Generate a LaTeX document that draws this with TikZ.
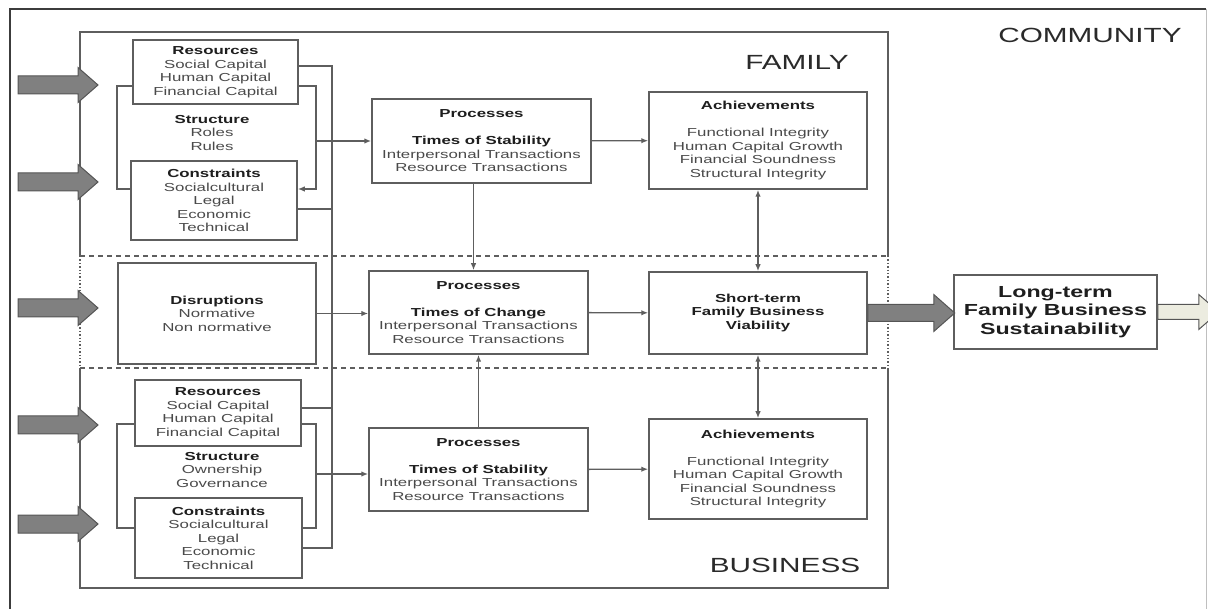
\documentclass[tikz,border=0pt]{standalone}
\usepackage{fontspec}
\setmainfont{Liberation Sans}[FakeStretch=1.45]
\usepackage{tikz}
\usetikzlibrary{arrows.meta}

\definecolor{linegray}{HTML}{5E5E5E}
\definecolor{framegray}{HTML}{3C3C3C}
\definecolor{bodytext}{HTML}{4A4A4A}
\definecolor{headtext}{HTML}{1E1E1E}
\definecolor{zonetext}{HTML}{2A2A2A}
\definecolor{arrowfill}{HTML}{808080}
\definecolor{arrowedge}{HTML}{555555}
\definecolor{outfill}{HTML}{ECECE0}

\newcommand{\boxhead}[1]{\textcolor{headtext}{\textbf{#1}}}

\tikzset{
  box/.style={draw=linegray, line width=1.5pt, fill=white, align=center,
    inner sep=0pt, text=bodytext, font={\fontsize{11.6}{13.5}\selectfont}},
  plain/.style={align=center, inner sep=0pt, text=bodytext,
    font={\fontsize{11.6}{13.5}\selectfont}},
  conn/.style={draw=linegray, line width=1.4pt},
  arr/.style={conn, -{Latex[length=7pt,width=5.5pt]}},
  twoarr/.style={conn, {Latex[length=7pt,width=5.5pt]}-{Latex[length=7pt,width=5.5pt]}},
  bigarr/.style={draw=arrowedge, line width=1pt, fill=arrowfill},
  zone/.style={text=zonetext, inner sep=0pt, font={\fontsize{20.5}{24}\selectfont}}
}

\begin{document}
\begin{tikzpicture}[x=1pt,y=1pt]
\useasboundingbox (0,0) rectangle (1208,-609);

% community frame
\draw[framegray, line width=1.5pt] (10,-609) -- (10,-9) -- (1206,-9);
\draw[black!25, line width=0.8pt] (1206,-9) -- (1206,-609);

% family and business frame
\draw[linegray, line width=1.4pt] (80,-256) -- (80,-32) -- (888,-32) -- (888,-256);
\draw[linegray, line width=1.4pt] (80,-368) -- (80,-588) -- (888,-588) -- (888,-368);
\draw[linegray, line width=1.4pt, dotted] (80,-256) -- (80,-368);
\draw[linegray, line width=1.4pt, dotted] (888,-256) -- (888,-368);
\draw[linegray, line width=1.2pt, dash pattern=on 5pt off 4pt] (80,-256) -- (888,-256);
\draw[linegray, line width=1.2pt, dash pattern=on 5pt off 4pt] (80,-368) -- (888,-368);

\node[zone] (famlabel) at (797,-62) {FAMILY};
\node[zone] (buslabel) at (785,-565) {BUSINESS};
\node[zone] (comlabel) at (1090,-35) {COMMUNITY};

% inputs from the left
\foreach \y in {85,182,308,425,524}
  \draw[bigarr] (18,{9-\y}) -- (78,{9-\y}) -- (78,{17.5-\y}) -- (98,-\y)
    -- (78,{-17.5-\y}) -- (78,{-9-\y}) -- (18,{-9-\y}) -- cycle;

% family side
\node[box, minimum width=165pt, minimum height=64pt] (famres) at (215.5,-72)
  {\boxhead{Resources}\\Social Capital\\Human Capital\\Financial Capital};
\node[plain] (famstruct) at (212,-133) {\boxhead{Structure}\\Roles\\Rules};
\node[box, minimum width=166pt, minimum height=79pt] (famcon) at (214,-200.5)
  {\boxhead{Constraints}\\Socialcultural\\Legal\\Economic\\Technical};

% disruptions
\node[box, minimum width=198pt, minimum height=101pt] (disr) at (217,-313.5)
  {\boxhead{Disruptions}\\Normative\\Non normative};

% business side
\node[box, minimum width=166pt, minimum height=66pt] (busres) at (218,-413)
  {\boxhead{Resources}\\Social Capital\\Human Capital\\Financial Capital};
\node[plain] (busstruct) at (222,-470) {\boxhead{Structure}\\Ownership\\Governance};
\node[box, minimum width=167pt, minimum height=80pt] (buscon) at (218.5,-538)
  {\boxhead{Constraints}\\Socialcultural\\Legal\\Economic\\Technical};

% processes
\node[box, minimum width=219pt, minimum height=84pt] (famproc) at (481.5,-141)
  {\boxhead{Processes}\\[13.5pt]\boxhead{Times of Stability}\\Interpersonal Transactions\\Resource Transactions};
\node[box, minimum width=219pt, minimum height=83pt] (chproc) at (478.5,-312.5)
  {\boxhead{Processes}\\[13.5pt]\boxhead{Times of Change}\\Interpersonal Transactions\\Resource Transactions};
\node[box, minimum width=219pt, minimum height=83pt] (busproc) at (478.5,-469.5)
  {\boxhead{Processes}\\[13.5pt]\boxhead{Times of Stability}\\Interpersonal Transactions\\Resource Transactions};

% achievements and viability
\node[box, minimum width=218pt, minimum height=97pt] (famach) at (758,-140.5)
  {\boxhead{Achievements}\\[13.5pt]Functional Integrity\\Human Capital Growth\\Financial Soundness\\Structural Integrity};
\node[box, minimum width=218pt, minimum height=82pt] (viab) at (758,-313)
  {\boxhead{Short-term}\\\boxhead{Family Business}\\\boxhead{Viability}};
\node[box, minimum width=218pt, minimum height=100pt] (busach) at (758,-469)
  {\boxhead{Achievements}\\[13.5pt]Functional Integrity\\Human Capital Growth\\Financial Soundness\\Structural Integrity};

\node[box, minimum width=203pt, minimum height=74pt, text=headtext,
  font={\fontsize{16}{18.5}\selectfont\bfseries}] (longterm) at (1055.5,-312)
  {Long-term\\Family Business\\Sustainability};

% structure brackets
\draw[conn] ([yshift=-14pt]famres.west) -| (117,-189) -- ([yshift=11.5pt]famcon.west);
\draw[arr] ([yshift=-14pt]famres.east) -| (316,-189) -- ([yshift=11.5pt]famcon.east);
\draw[conn] ([yshift=-11pt]busres.west) -| (117,-528) -- ([yshift=10pt]buscon.west);
\draw[conn] ([yshift=-11pt]busres.east) -| (316,-528) -- ([yshift=10pt]buscon.east);

\coordinate (famout) at (316,-141);
\coordinate (busout) at (316,-474);
\draw[arr] (famout) -- (famout -| famproc.west);
\draw[arr] (busout) -- (busout -| busproc.west);

% spine joining resources and constraints
\coordinate (spine) at (332,0);
\coordinate (famconout) at ([yshift=-8.5pt]famcon.east);
\coordinate (busresout) at ([yshift=5pt]busres.east);
\draw[conn] ([yshift=6pt]famres.east) -| (332,-548) -- ([yshift=-10pt]buscon.east);
\draw[conn] (famconout) -- (famconout -| spine);
\draw[conn] (busresout) -- (busresout -| spine);

% flows
\coordinate (famdown) at ([xshift=-8pt]famproc.south);
\draw[arr] (disr.east) -- (disr.east -| chproc.west);
\draw[arr] (famproc) -- (famach);
\draw[arr] (chproc) -- (viab);
\draw[arr] (busproc) -- (busach);
\draw[arr] (famdown) -- (famdown |- chproc.north);
\draw[arr] (busproc.north) -- (busproc.north |- chproc.south);
\draw[twoarr] (famach.south) -- (viab.north);
\draw[twoarr] (viab.south) -- (busach.north);

% outcome arrows
\draw[bigarr] ([yshift=8.5pt]viab.east) -- ++(66,0) -- ++(0,10) -- ++(21,-18.5)
  -- ++(-21,-18.5) -- ++(0,10) -- ++(-66,0) -- cycle;
\draw[bigarr, fill=outfill] ([yshift=7.5pt]longterm.east) -- ++(41,0) -- ++(0,10) -- ++(20,-17.5)
  -- ++(-20,-17.5) -- ++(0,10) -- ++(-41,0) -- cycle;
\end{tikzpicture}
\end{document}
